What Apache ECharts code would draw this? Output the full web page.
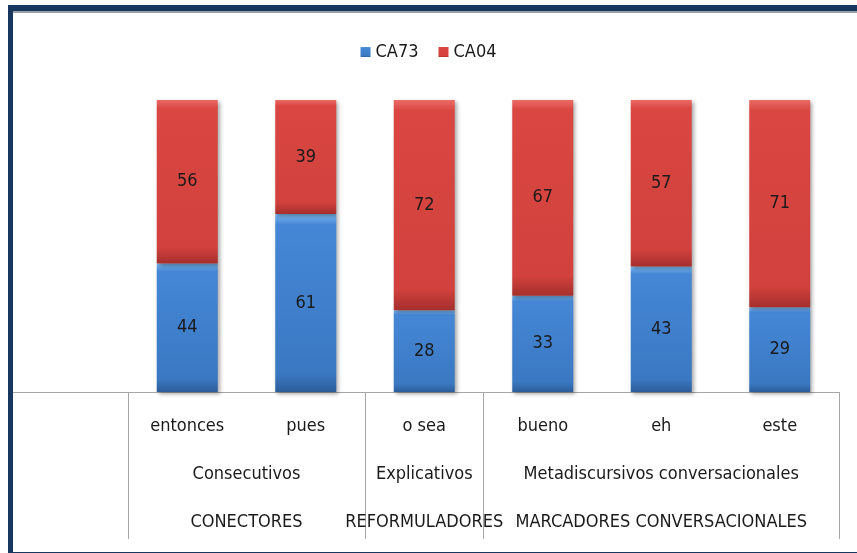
<!DOCTYPE html>
<html>
<head>
<meta charset="utf-8">
<script src="https://cdn.jsdelivr.net/npm/echarts@6/dist/echarts.min.js"></script>
<style>
  body { margin: 0; background: #fff; }
  #chart { position: absolute; left: 0; top: 0; width: 857px; height: 553px; }
  .frame {
    position: absolute; left: 8px; top: 5px; width: 860px; height: 541px;
    border-left: 5px solid #17375e; border-top: 6px solid #17375e; border-bottom: 3px solid #17375e;
    pointer-events: none;
  }
  .frame-shade { position: absolute; left: 13px; top: 11px; width: 850px; height: 2px; background: #9a9ea6; pointer-events: none; }
</style>
</head>
<body>
<div id="chart"></div>
<div class="frame"></div>
<div class="frame-shade"></div>
<script>
const categories = ['entonces', 'pues', 'o sea', 'bueno', 'eh', 'este']
const ca73 = [44, 61, 28, 33, 43, 29]
const ca04 = [56, 39, 72, 67, 57, 71]
// second and third label rows, each group spans groupSizes categories
const groupSizes = [2, 1, 3]
const subGroups = ['Consecutivos', 'Explicativos', 'Metadiscursivos conversacionales']
const mainGroups = ['CONECTORES', 'REFORMULADORES', 'MARCADORES CONVERSACIONALES']

let bounds = [0]
let centers = []
groupSizes.forEach(n => {
  let start = bounds[bounds.length - 1]
  centers.push(start + n / 2)
  bounds.push(start + n)
})

const font = "'Liberation Sans Narrow', 'DejaVu Sans Condensed', sans-serif"
const gray = '#a6a6a6'
const fs = 18

function groupLabel(names) {
  return function (value) {
    let i = centers.findIndex(c => Math.abs(c - value) < 1e-6)
    return i >= 0 ? names[i] : ''
  }
}

let myEcharts = echarts.init(document.getElementById('chart'))
let option = {
  backgroundColor: '#fff',
  animation: false,
  textStyle: { fontFamily: font },
  legend: {
    top: 38,
    left: 'center',
    itemWidth: 10,
    itemHeight: 10,
    itemGap: 20,
    icon: 'rect',
    textStyle: { fontFamily: font, fontSize: fs, color: '#1a1a1a' },
    data: ['CA73', 'CA04']
  },
  grid: [
    { left: 128, right: 18, top: 100, bottom: 161 },
    { left: 13, width: 115, top: 100, bottom: 161 }
  ],
  xAxis: [
    {
      type: 'category',
      gridIndex: 0,
      data: categories,
      axisLine: { lineStyle: { color: gray, width: 1 } },
      axisTick: { show: false },
      axisLabel: { interval: 0, hideOverlap: false, margin: 25, fontFamily: font, fontSize: fs, color: '#1a1a1a' }
    },
    {
      type: 'value',
      gridIndex: 0,
      position: 'bottom',
      min: 0,
      max: categories.length,
      axisLine: { show: false },
      splitLine: { show: false },
      axisTick: { show: true, customValues: bounds, length: 147, lineStyle: { color: gray, width: 1 } },
      axisLabel: { customValues: centers, hideOverlap: false, margin: 73, formatter: groupLabel(subGroups), fontFamily: font, fontSize: fs, color: '#1a1a1a' }
    },
    {
      type: 'value',
      gridIndex: 0,
      position: 'bottom',
      min: 0,
      max: categories.length,
      axisLine: { show: false },
      splitLine: { show: false },
      axisTick: { show: false },
      axisLabel: { customValues: centers, hideOverlap: false, margin: 121, formatter: groupLabel(mainGroups), fontFamily: font, fontSize: fs, color: '#1a1a1a' }
    },
    {
      type: 'category',
      gridIndex: 1,
      data: [''],
      axisLine: { lineStyle: { color: gray, width: 1 } },
      axisTick: { show: false },
      axisLabel: { show: false }
    }
  ],
  yAxis: [
    { type: 'value', gridIndex: 0, min: 0, max: 100, show: false },
    { type: 'value', gridIndex: 1, min: 0, max: 100, show: false }
  ],
  series: [
    {
      name: 'CA73',
      type: 'bar',
      stack: 'total',
      barWidth: 61,
      data: ca73,
      label: { show: true, position: 'inside', fontFamily: font, fontSize: fs, color: '#1a1a1a' },
      itemStyle: {
        color: new echarts.graphic.LinearGradient(0, 0, 0, 1, [
          { offset: 0, color: '#7dbaf0' },
          { offset: 0.06, color: '#4587d6' },
          { offset: 0.9, color: '#3a78c2' },
          { offset: 1, color: '#2c5d99' }
        ]),
        shadowBlur: 4,
        shadowOffsetX: 2,
        shadowOffsetY: 2,
        shadowColor: 'rgba(0,0,0,0.35)'
      }
    },
    {
      name: 'CA04',
      type: 'bar',
      stack: 'total',
      barWidth: 61,
      data: ca04,
      label: { show: true, position: 'inside', fontFamily: font, fontSize: fs, color: '#1a1a1a' },
      itemStyle: {
        color: new echarts.graphic.LinearGradient(0, 0, 0, 1, [
          { offset: 0, color: '#ec6b66' },
          { offset: 0.05, color: '#da4743' },
          { offset: 0.9, color: '#d2413d' },
          { offset: 1, color: '#a52f2c' }
        ]),
        shadowBlur: 4,
        shadowOffsetX: 2,
        shadowOffsetY: 2,
        shadowColor: 'rgba(0,0,0,0.35)'
      }
    }
  ]
}
myEcharts.setOption(option)
</script>
</body>
</html>
